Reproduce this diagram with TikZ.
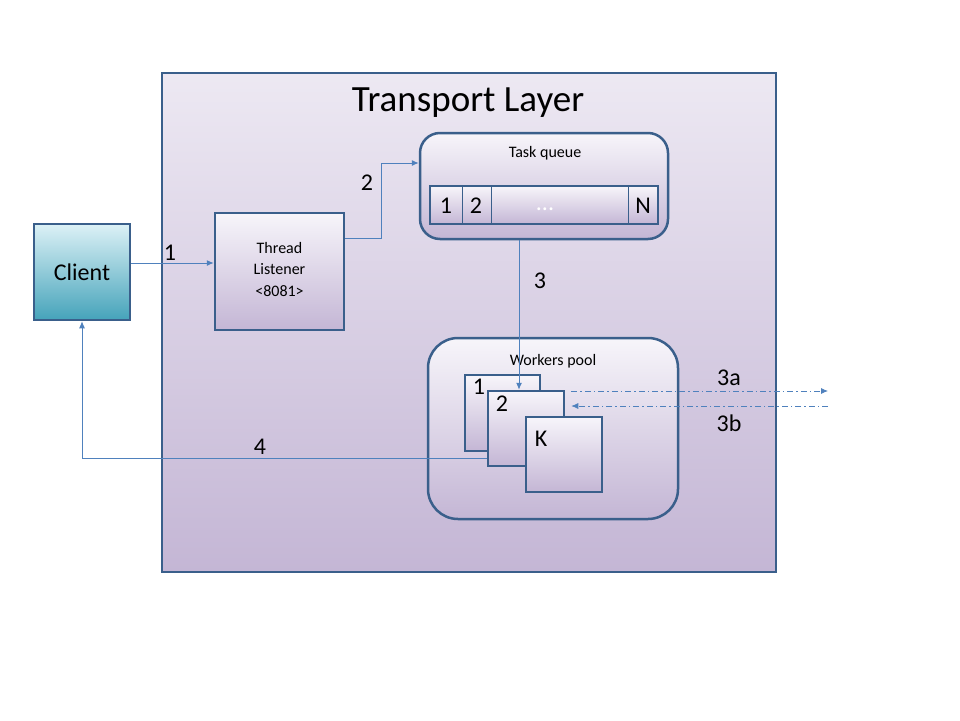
\documentclass[tikz,border=0pt]{standalone}
\usepackage{fontspec}
\setmainfont{Carlito}
\usetikzlibrary{arrows.meta}
\definecolor{bord}{HTML}{3A5F8B}
\definecolor{arr}{HTML}{4F81BD}
\definecolor{lav}{HTML}{C4B6D5}
\definecolor{lavtop}{HTML}{F7F5FA}
\definecolor{tealtop}{HTML}{DCF1F6}
\definecolor{tealbot}{HTML}{45A3BA}
\begin{document}
\begin{tikzpicture}[x=1pt,y=-1pt,
 box/.style={draw=bord,line width=2.5pt,top color=lavtop,bottom color=lav,inner sep=0pt},
 conn/.style={draw=arr,line width=1pt,-{Latex[length=7pt,width=6pt]}},
 dd/.style={draw=arr,line width=0.8pt,dash pattern=on 6pt off 3pt on 1.5pt off 3pt,-{Latex[length=7pt,width=6pt]}},
 lbl/.style={font=\fontsize{24}{28}\selectfont},
 small/.style={font=\fontsize{16}{19}\selectfont}]
\useasboundingbox[fill=white] (0,0) rectangle (960,720);
\node[box,line width=2.2pt,minimum width=614pt,minimum height=499pt,top color=lavtop!80!lav,bottom color=lav] (tl) at (469,322.5) {};
\node[font=\fontsize{37}{40}\selectfont] (title) at (468,103) {Transport Layer};
\node[box,top color=tealtop,bottom color=tealbot,minimum width=96pt,minimum height=96pt,font=\fontsize{24}{28}\selectfont] (client) at (82,272) {Client};
\node[box,minimum width=129pt,minimum height=117pt] (listener) at (279.5,271.5) {};
\node[align=center,font=\fontsize{16}{21.5}\selectfont] (listenertext) at (279.5,269) {Thread\\Listener\\<8081>};
\node[box,rounded corners=20pt,minimum width=248pt,minimum height=106pt] (tq) at (544,186) {};
\node[small] (tqlabel) at (545,153) {Task queue};
\node[box,minimum width=228pt,minimum height=38pt] (bar) at (544,205) {};
\draw[bord,line width=1pt] (462,187) -- (462,223) (491,187) -- (491,223) (628,187) -- (628,223);
\node[lbl] (q1) at (446,206) {1};
\node[lbl] (q2) at (476,206) {2};
\node[lbl,text=white] (qd) at (545,209) {...};
\node[lbl] (qn) at (643,206) {N};
\node[box,rounded corners=30pt,minimum width=250pt,minimum height=181pt] (wp) at (553,428.5) {};
\node[small] (wplabel) at (553,361) {Workers pool};
\node[box,minimum width=75pt,minimum height=76pt] (w1) at (502.5,413) {};
\node[lbl] (w1l) at (479,387) {1};
\node[box,minimum width=76pt,minimum height=75pt] (w2) at (526,428.5) {};
\node[lbl] (w2l) at (502,404) {2};
\node[box,minimum width=76pt,minimum height=75pt] (wk) at (564,454.5) {};
\node[lbl] (wkl) at (541,439) {K};
\coordinate (e3a) at (828,391);
\coordinate (e3b) at (828,406);
\draw[conn] ([yshift=9pt]client.east) -- ([yshift=9pt]client.east -| listener.west);
\node[lbl] (l1) at (170,253) {1};
\draw[conn] ([yshift=33.5pt]listener.east) -- ++(36,0) |- ([yshift=23pt]tq.west);
\node[lbl] (l2) at (367,183) {2};
\draw[conn] ([xshift=-25pt]tq.south) -- ([xshift=-25pt]tq.south |- w2.north);
\node[lbl] (l3) at (540,281) {3};
\draw[conn] ([yshift=-29.5pt]w2.west) -| (client.south);
\node[lbl] (l4) at (260,447) {4};
\draw[dd] ([xshift=6pt,yshift=37.5pt]w2.east) -- (e3a);
\node[lbl] (l3a) at (729,378) {3a};
\draw[dd] (e3b) -- ([xshift=6pt,yshift=22.5pt]w2.east);
\node[lbl] (l3b) at (729,423) {3b};
\end{tikzpicture}
\end{document}
